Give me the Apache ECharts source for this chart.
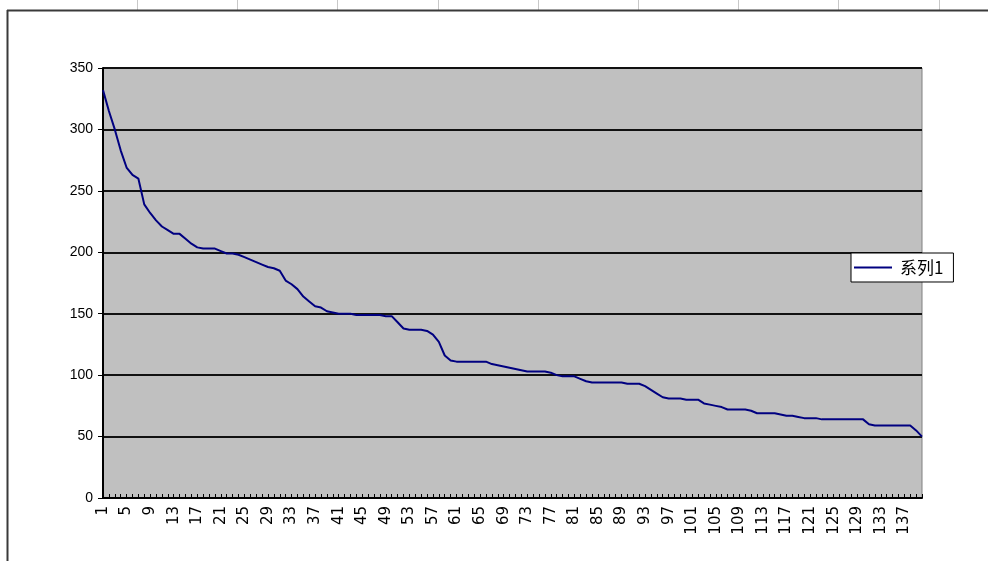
<!DOCTYPE html>
<html>
<head>
<meta charset="utf-8">
<script src="https://cdn.jsdelivr.net/npm/echarts@6/dist/echarts.min.js"></script>
<style>
html,body{margin:0;padding:0;background:#fff;}
#chart{width:988px;height:561px;}
</style>
</head>
<body>
<div id="chart"></div>
<script>
const seriesName = '系列1';
const categories = [];
for (let i = 1; i <= 140; i++) categories.push(String(i));
const values = [
 332,315,300,283,269,263,260,239,232,226,
 221,218,215,215,211,207,204,203,203,203,
 201,199,199,198,196,194,192,190,188,187,
 185,177,174,170,164,160,156,155,152,151,
 150,150,150,149,149,149,149,149,148,148,
 143,138,137,137,137,136,133,127,116,112,
 111,111,111,111,111,111,109,108,107,106,
 105,104,103,103,103,103,102,100,99,99,
 99,97,95,94,94,94,94,94,94,93,
 93,93,91,88,85,82,81,81,81,80,
 80,80,77,76,75,74,72,72,72,72,
 71,69,69,69,69,68,67,67,66,65,
 65,65,64,64,64,64,64,64,64,64,
 60,59,59,59,59,59,59,59,55,50
];
const yTicks = [0, 50, 100, 150, 200, 250, 300, 350];

const chart = echarts.init(document.getElementById('chart'), null, {renderer: 'canvas'});

const sheetLines = [];
for (let x = 137; x < 988; x += 100.2) {
  sheetLines.push({type: 'line', shape: {x1: Math.round(x) + 0.5, y1: 0, x2: Math.round(x) + 0.5, y2: 10}, style: {stroke: '#c8c8c8', lineWidth: 1}, silent: true});
}

chart.setOption({
  animation: false,
  backgroundColor: '#fff',
  graphic: [
    ...sheetLines,
    {type: 'line', shape: {x1: 7, y1: 10.5, x2: 988, y2: 10.5}, style: {stroke: '#3a3a3a', lineWidth: 2}, silent: true},
    {type: 'line', shape: {x1: 7.5, y1: 10, x2: 7.5, y2: 561}, style: {stroke: '#3a3a3a', lineWidth: 2}, silent: true}
  ],
  grid: {
    left: 103, right: 66, top: 68, bottom: 63,
    show: true, backgroundColor: '#C0C0C0', borderColor: '#808080', borderWidth: 1,
    containLabel: false
  },
  legend: {
    show: true,
    data: [{name: seriesName, icon: 'rect'}],
    left: 851, top: 253,
    orient: 'vertical',
    backgroundColor: '#fff',
    borderColor: '#000', borderWidth: 1, borderRadius: 0,
    padding: [6, 10, 6, 3],
    itemWidth: 38, itemHeight: 2,
    itemGap: 0,
    itemStyle: {color: '#000080', borderWidth: 0},
    textStyle: {fontFamily: 'Noto Sans CJK SC', fontSize: 17, color: '#000', padding: [0, 0, 0, 3]}
  },
  xAxis: {
    type: 'category',
    data: categories,
    boundaryGap: false,
    axisLine: {show: true, lineStyle: {color: '#000', width: 2}},
    axisTick: {show: true, inside: true, interval: 0, length: 4, lineStyle: {color: '#000', width: 1}},
    axisLabel: {
      interval: 3, rotate: 90, margin: 8,
      fontFamily: 'DejaVu Sans', fontSize: 15, color: '#000'
    },
    splitLine: {show: false}
  },
  yAxis: {
    type: 'value',
    min: yTicks[0], max: yTicks[yTicks.length - 1], interval: 50,
    axisLine: {show: true, lineStyle: {color: '#000', width: 2}},
    axisTick: {show: true, inside: false, length: 5, lineStyle: {color: '#000', width: 1}},
    axisLabel: {margin: 10, fontFamily: 'Liberation Sans', fontSize: 14, color: '#000'},
    splitLine: {show: true, lineStyle: {color: '#111', width: 2}}
  },
  series: [{
    name: seriesName,
    type: 'line',
    data: values,
    symbol: 'none',
    showSymbol: false,
    lineStyle: {color: '#000080', width: 2},
    itemStyle: {color: '#000080'}
  }]
});
</script>
</body>
</html>
